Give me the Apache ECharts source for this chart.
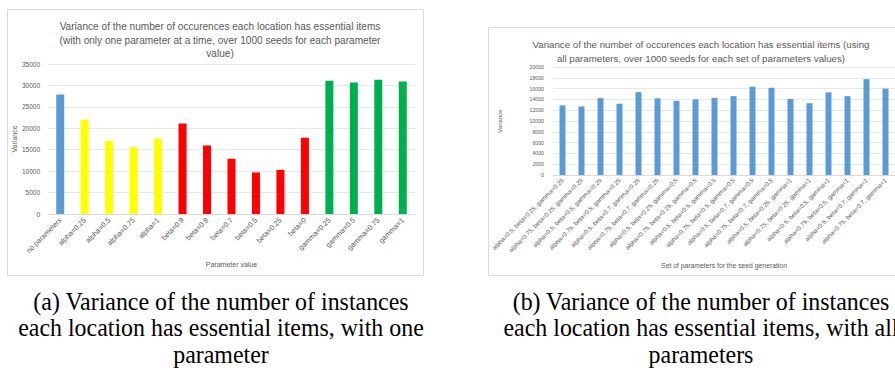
<!DOCTYPE html>
<html><head><meta charset="utf-8">
<script src="https://cdn.jsdelivr.net/npm/echarts@6/dist/echarts.min.js"></script>
<style>html,body{margin:0;padding:0;background:#fff}#c{width:895px;height:370px}</style>
</head><body><div id="c"></div>
<script>
// ---- Chart (a) data ----
const catsA = ['no parameters','alpha=0.25','alpha=0.5','alpha=0.75','alpha=1','beta=0.9','beta=0.8','beta=0.7','beta=0.5','beta=0.25','beta=0','gamma=0.25','gamma=0.5','gamma=0.75','gamma=1'];
const valsA = [27900, 22000, 17100, 15600, 17600, 21100, 16000, 12900, 9700, 10300, 17800, 31100, 30700, 31300, 30900];
const groupA = ['none','alpha','alpha','alpha','alpha','beta','beta','beta','beta','beta','beta','gamma','gamma','gamma','gamma'];
// ---- Chart (b) data ----
const catsB = [
 'alpha=0.5, beta=0.25, gamma=0.25','alpha=0.75, beta=0.25, gamma=0.25',
 'alpha=0.5, beta=0.5, gamma=0.25','alpha=0.75, beta=0.5, gamma=0.25',
 'alpha=0.5, beta=0.7, gamma=0.25','alpha=0.75, beta=0.7, gamma=0.25',
 'alpha=0.5, beta=0.25, gamma=0.5','alpha=0.75, beta=0.25, gamma=0.5',
 'alpha=0.5, beta=0.5, gamma=0.5','alpha=0.75, beta=0.5, gamma=0.5',
 'alpha=0.5, beta=0.7, gamma=0.5','alpha=0.75, beta=0.7, gamma=0.5',
 'alpha=0.5, beta=0.25, gamma=1','alpha=0.75, beta=0.25, gamma=1',
 'alpha=0.5, beta=0.5, gamma=1','alpha=0.75, beta=0.5, gamma=1',
 'alpha=0.5, beta=0.7, gamma=1','alpha=0.75, beta=0.7, gamma=1'];
const valsB = [12900, 12700, 14250, 13200, 15350, 14200, 13750, 14000, 14300, 14600, 16350, 16150, 14100, 13300, 15300, 14600, 17750, 16000];
// ---- text ----
const titleA = ['Variance of the number of occurences each location has essential items','(with only one parameter at a time, over 1000 seeds for each parameter','value)'];
const titleB = ['Variance of the number of occurences each location has essential items (using','all parameters, over 1000 seeds for each set of parameters values)'];
const captionA = ['(a) Variance of the number of instances','each location has essential items, with one','parameter'];
const captionB = ['(b) Variance of the number of instances','each location has essential items, with all','parameters'];

const groupColor = {none:'#5B9BD5', alpha:'#FFFF00', beta:'#FF0000', gamma:'#00B050'};
const F = 'Liberation Sans, Arial, sans-serif';
const grey = '#595959';

const chart = echarts.init(document.getElementById('c'), null, {renderer:'svg'});

function capText(lines, cx, y0){
  return lines.map((t,i)=>({type:'text', x:cx, y:y0+i*26.5, scaleX:0.92,
    style:{text:t, font:'26px "Liberation Serif", "Times New Roman", serif', fill:'#000', textAlign:'center', textVerticalAlign:'middle'}}));
}

const noComma = v => String(v);

const option = {
  animation:false,
  backgroundColor:'#fff',
  title:[
    {text:titleA.join('\n'), left:215, top:15, textAlign:'center', textStyle:{fontFamily:F, fontSize:10.1, fontWeight:'normal', color:grey, lineHeight:13.5, align:'center'}},
    {text:titleB.join('\n'), left:696, top:33, textAlign:'center', textStyle:{fontFamily:F, fontSize:9.7, fontWeight:'normal', color:grey, lineHeight:13.4, align:'center'}}
  ],
  graphic:[
    {type:'rect', shape:{x:7.5, y:9.5, width:416, height:266}, style:{fill:'none', stroke:'#d9d9d9', lineWidth:1}, z:-1},
    {type:'rect', shape:{x:488.5, y:27.5, width:420, height:248}, style:{fill:'none', stroke:'#d9d9d9', lineWidth:1}, z:-1},
    ...capText(captionA, 221, 301),
    ...capText(captionB, 701, 301)
  ],
  grid:[
    {left:48, right:480, top:64, bottom:156},
    {left:553, right:-1, top:67, bottom:195}
  ],
  xAxis:[
    {type:'category', gridIndex:0, data:catsA, name:'Parameter value', nameLocation:'middle', nameGap:47,
     nameTextStyle:{fontFamily:F, fontSize:7, color:grey},
     axisLine:{lineStyle:{color:'#d9d9d9'}}, axisTick:{show:false},
     axisLabel:{rotate:45, interval:0, fontFamily:F, fontSize:7.2, color:grey, margin:5}},
    {type:'category', gridIndex:1, data:catsB, name:'Set of parameters for the seed generation', nameLocation:'middle', nameGap:87,
     nameTextStyle:{fontFamily:F, fontSize:6.8, color:grey},
     axisLine:{lineStyle:{color:'#d9d9d9'}}, axisTick:{show:false},
     axisLabel:{rotate:45, interval:0, fontFamily:F, fontSize:6.2, color:grey, margin:4}}
  ],
  yAxis:[
    {type:'value', gridIndex:0, min:0, max:35000, interval:5000, name:'Variance', nameLocation:'middle', nameGap:26,
     nameTextStyle:{fontFamily:F, fontSize:7, color:grey},
     axisLine:{show:false}, axisTick:{show:false},
     splitLine:{lineStyle:{color:'#e8e8e8'}},
     axisLabel:{fontFamily:F, fontSize:6.5, color:grey, margin:8, formatter:noComma}},
    {type:'value', gridIndex:1, min:0, max:20000, interval:2000, name:'Variance', nameLocation:'middle', nameGap:50,
     nameTextStyle:{fontFamily:F, fontSize:6, color:grey},
     axisLine:{show:false}, axisTick:{show:false},
     splitLine:{lineStyle:{color:'#e8e8e8'}},
     axisLabel:{fontFamily:F, fontSize:5.2, color:grey, margin:9, formatter:noComma}}
  ],
  series:[
    {type:'bar', xAxisIndex:0, yAxisIndex:0, barWidth:8,
     data:valsA.map((v,i)=>({value:v, itemStyle:{color:groupColor[groupA[i]]}}))},
    {type:'bar', xAxisIndex:1, yAxisIndex:1, barWidth:6, itemStyle:{color:'#5B9BD5'}, data:valsB}
  ]
};
chart.setOption(option);
</script>
</body></html>
